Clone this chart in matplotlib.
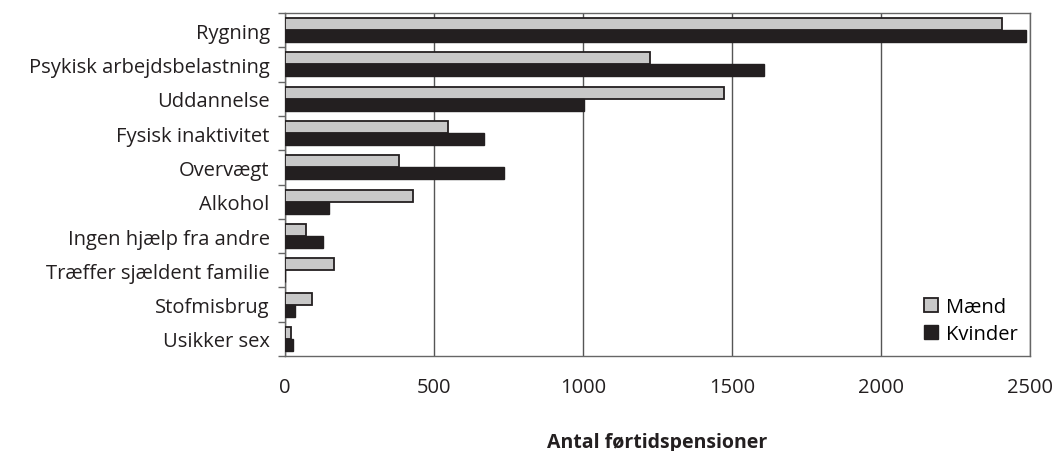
import matplotlib.pyplot as plt
import numpy as np

plt.rcParams['font.family'] = ['Open Sans', 'DejaVu Sans']

kategorier = ['Rygning', 'Psykisk arbejdsbelastning', 'Uddannelse', 'Fysisk inaktivitet',
              'Overvægt', 'Alkohol', 'Ingen hjælp fra andre', 'Træffer sjældent familie',
              'Stofmisbrug', 'Usikker sex']
maend = [2405, 1225, 1473, 547, 383, 430, 70, 164, 91, 20]
kvinder = [2487, 1607, 1003, 668, 735, 148, 128, 0, 34, 27]

fig = plt.figure(figsize=(10.58, 4.52), dpi=100)
ax = fig.add_axes([0.2694, 0.21, 0.7041, 0.759])

y = np.arange(len(kategorier))
h = 0.35
ax.barh(y - h / 2, maend, height=h, color='#c8c8c8', edgecolor='#231f20', linewidth=1.3,
        label='Mænd', zorder=3)
ax.barh(y + h / 2, kvinder, height=h, color='#231f20', edgecolor='#231f20', linewidth=1.0,
        label='Kvinder', zorder=3)

ax.set_xlim(0, 2500)
ax.set_ylim(len(kategorier) - 0.5, -0.5)
ax.set_xticks([0, 500, 1000, 1500, 2000, 2500])
ax.tick_params(axis='x', length=0, pad=15, labelsize=14.5, colors='#231f20')
ax.set_yticks(y)
ax.set_yticklabels(kategorier, fontsize=14.5, color='#231f20')
ax.tick_params(axis='y', length=0, pad=11)
# små streger mellem kategorierne
ax.set_yticks(np.arange(len(kategorier) + 1) - 0.5, minor=True)
ax.tick_params(axis='y', which='minor', length=5, color='#666666', width=1)

ax.xaxis.grid(True, color='#555555', linewidth=1, zorder=0)
for s in ax.spines.values():
    s.set_color('#666666')
    s.set_linewidth(1)

ax.set_xlabel('Antal førtidspensioner', fontsize=14, fontweight='bold', labelpad=25,
              color='#231f20')

leg = ax.legend(loc='lower right', frameon=True, fontsize=14.5, handlelength=0.7,
                handleheight=0.7, handletextpad=0.4, labelspacing=0.35,
                borderaxespad=0.2, fancybox=False)
leg.get_frame().set_edgecolor('none')
leg.get_frame().set_facecolor('white')
leg.get_frame().set_alpha(1)

plt.savefig('out.png', dpi=100)
